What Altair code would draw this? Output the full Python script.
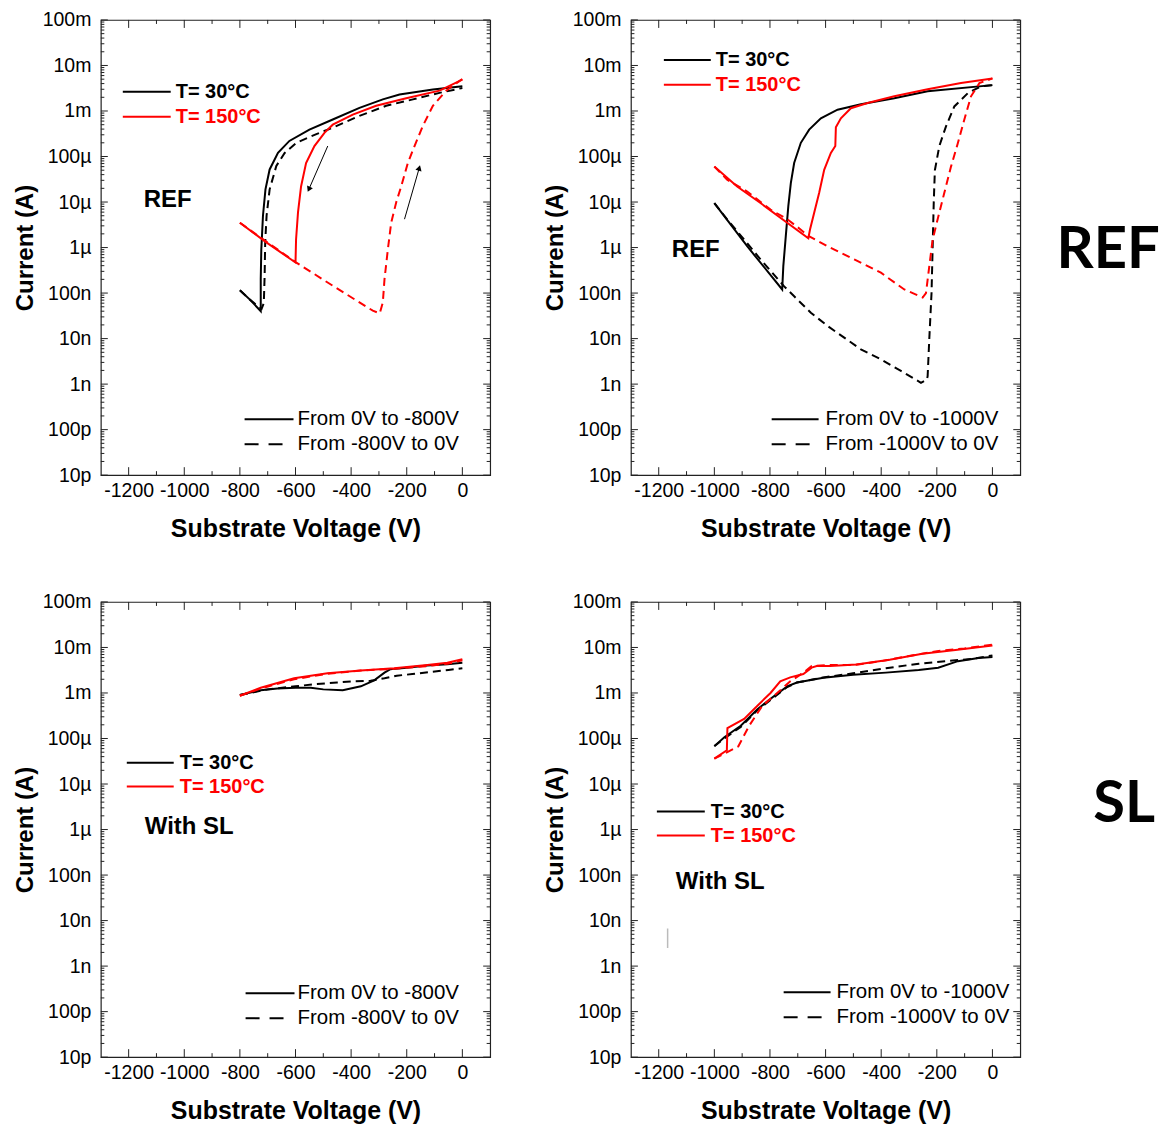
import altair as alt
import pandas as pd

# ---------------- data ----------------
# Panel 1 : REF, sweep 0 V -> -800 V (solid) and back (dashed)
p1_30_fwd_v = [0, -106, -226, -286, -370, -466, -550, -622, -663, -693, -708, -717, -723, -725, -725, -762, -800]
p1_30_fwd_i = [3.5e-3, 2.95e-3, 2.3e-3, 1.8e-3, 1.17e-3, 6.5e-4, 3.9e-4, 2.2e-4, 1.2e-4, 5.2e-5, 1.9e-5, 5e-6, 9e-7, 2e-7, 4e-8, 7e-8, 1.15e-7]
p1_30_rev_v = [-800, -762, -722, -714, -711, -709, -704, -693, -669, -639, -597, -525, -466, -370, -274, -178, -82, 0]
p1_30_rev_i = [1.15e-7, 7e-8, 4.5e-8, 6e-8, 2.4e-7, 1.3e-6, 5e-6, 1.9e-5, 6.2e-5, 1.2e-4, 2e-4, 3.1e-4, 4.3e-4, 7.8e-4, 1.3e-3, 1.8e-3, 2.5e-3, 3.2e-3]
p1_150_fwd_v = [0, -82, -202, -310, -394, -466, -496, -532, -562, -580, -591, -598, -600, -705, -800]
p1_150_fwd_i = [4.9e-3, 2.8e-3, 1.9e-3, 1.3e-3, 8.3e-4, 5e-4, 3.3e-4, 1.7e-4, 7.2e-5, 2.2e-5, 5.9e-6, 1.5e-6, 4.7e-7, 1.3e-6, 3.5e-6]
p1_150_rev_v = [-800, -705, -600, -466, -322, -297, -286, -280, -268, -256, -238, -220, -196, -172, -142, -106, -58, -10, 0]
p1_150_rev_i = [3.5e-6, 1.35e-6, 4.8e-7, 1.45e-7, 4.1e-8, 3.6e-8, 6.2e-8, 2e-7, 9e-7, 3.5e-6, 9.8e-6, 2.2e-5, 7.2e-5, 1.7e-4, 4.7e-4, 1.3e-3, 2.8e-3, 4.6e-3, 5e-3]
p1_arrow_v0 = [-484, -208]
p1_arrow_i0 = [1.7e-4, 4.2e-6]
p1_arrow_v1 = [-552, -155]
p1_arrow_i1 = [1.9e-5, 5.6e-5]
p1_arrow_ang = [204, 16]

# Panel 2 : REF, sweep 0 V -> -1000 V
p2_30_fwd_v = [0, -233, -353, -473, -557, -617, -659, -689, -713, -725, -734, -743, -752, -756, -882, -1000]
p2_30_fwd_i = [3.7e-3, 2.7e-3, 1.9e-3, 1.4e-3, 1.07e-3, 6.9e-4, 3.9e-4, 2e-4, 7.2e-5, 2.6e-5, 8.1e-6, 1.8e-6, 3.9e-7, 1.2e-7, 1.07e-6, 9.5e-6]
p2_30_rev_v = [-1000, -953, -893, -833, -785, -749, -713, -653, -593, -533, -473, -401, -329, -257, -236, -233, -227, -219, -215, -211, -207, -191, -167, -137, -89, -41, 0]
p2_30_rev_i = [9.5e-6, 4.1e-6, 1.5e-6, 5.4e-7, 2.5e-7, 1.4e-7, 8.5e-8, 3.7e-8, 1.9e-8, 1.05e-8, 5.8e-9, 3.5e-9, 1.95e-9, 1.07e-9, 1.25e-9, 1.5e-9, 1e-8, 1e-7, 1e-6, 1e-5, 5e-5, 1.7e-4, 4.6e-4, 1.26e-3, 2.45e-3, 3.5e-3, 3.7e-3]
p2_150_fwd_v = [0, -113, -233, -353, -449, -509, -545, -563, -565, -581, -605, -623, -641, -656, -662, -834, -918, -1000]
p2_150_fwd_i = [5.2e-3, 4.1e-3, 3e-3, 2.1e-3, 1.5e-3, 1.15e-3, 6.9e-4, 4.4e-4, 1.7e-4, 1.2e-4, 5.1e-5, 1.6e-5, 5.8e-6, 2.5e-6, 1.6e-6, 9.5e-6, 2.2e-5, 6e-5]
p2_150_rev_v = [-1000, -954, -882, -798, -738, -690, -662, -593, -497, -401, -317, -251, -239, -227, -215, -197, -173, -149, -125, -101, -77, -47, 0]
p2_150_rev_i = [6e-5, 3.1e-5, 1.7e-5, 6.8e-6, 4.2e-6, 2.5e-6, 1.8e-6, 1.07e-6, 5.5e-7, 2.8e-7, 1.2e-7, 8e-8, 1e-7, 3.9e-7, 1.5e-6, 4.2e-6, 1.6e-5, 6e-5, 1.9e-4, 6.5e-4, 2.1e-3, 4.1e-3, 5.2e-3]

# Panel 3 : with SL, sweep 0 V -> -800 V
p3_30_fwd_v = [0, -54, -126, -200, -260, -280, -317, -365, -430, -500, -545, -600, -665, -725, -800]
p3_30_fwd_i = [4.6e-3, 4.3e-3, 4.0e-3, 3.6e-3, 3.3e-3, 2.8e-3, 1.9e-3, 1.4e-3, 1.15e-3, 1.2e-3, 1.3e-3, 1.3e-3, 1.25e-3, 1.15e-3, 9e-4]
p3_30_rev_v = [-800, -700, -600, -536, -450, -390, -330, -280, -236, -180, -116, -50, 0]
p3_30_rev_i = [9e-4, 1.2e-3, 1.4e-3, 1.55e-3, 1.7e-3, 1.8e-3, 1.85e-3, 2.1e-3, 2.4e-3, 2.6e-3, 2.9e-3, 3.2e-3, 3.5e-3]
p3_150_fwd_v = [0, -54, -126, -245, -365, -485, -605, -725, -800]
p3_150_fwd_i = [5.5e-3, 4.6e-3, 4.1e-3, 3.5e-3, 3.1e-3, 2.7e-3, 2.1e-3, 1.3e-3, 8.7e-4]
p3_150_rev_v = [-800, -725, -605, -485, -365, -245, -126, -54, 0]
p3_150_rev_i = [8.7e-4, 1.25e-3, 2.0e-3, 2.65e-3, 3.1e-3, 3.4e-3, 3.9e-3, 4.4e-3, 5.2e-3]

# Panel 4 : with SL, sweep 0 V -> -1000 V
p4_30_fwd_v = [0, -50, -124, -195, -265, -383, -501, -608, -703, -738, -786, -845, -905, -964, -1000]
p4_30_fwd_i = [6.2e-3, 5.9e-3, 5e-3, 3.6e-3, 3.2e-3, 2.8e-3, 2.5e-3, 2.15e-3, 1.7e-3, 1.4e-3, 8.5e-4, 4.4e-4, 1.9e-4, 1.07e-4, 6.8e-5]
p4_30_rev_v = [-1000, -964, -905, -845, -786, -738, -703, -608, -501, -383, -265, -171, -74, 0]
p4_30_rev_i = [6.8e-5, 1.0e-4, 1.8e-4, 4.2e-4, 8e-4, 1.35e-3, 1.7e-3, 2.2e-3, 2.7e-3, 3.5e-3, 4.4e-3, 5e-3, 5.6e-3, 6.7e-3]
p4_150_fwd_v = [0, -133, -252, -370, -489, -584, -632, -650, -680, -727, -763, -798, -846, -893, -953, -955, -1000]
p4_150_fwd_i = [1.1e-2, 8.8e-3, 7.3e-3, 5.4e-3, 4.2e-3, 3.9e-3, 3.9e-3, 3.6e-3, 2.6e-3, 2.2e-3, 1.8e-3, 1e-3, 5.2e-4, 2.7e-4, 1.7e-4, 5.5e-5, 3.6e-5]
p4_150_rev_v = [-1000, -914, -875, -828, -774, -727, -680, -650, -600, -500, -400, -300, -200, -100, 0]
p4_150_rev_i = [3.6e-5, 6.7e-5, 1.9e-4, 5.2e-4, 1e-3, 1.8e-3, 2.8e-3, 3.9e-3, 4.1e-3, 4.1e-3, 5e-3, 6.5e-3, 8.3e-3, 9.5e-3, 1.15e-2]
p4_mark_v = [-1168, -1168]
p4_mark_i = [2.5e-9, 6.7e-9]

# axes
x_tick_values = [-1200, -1000, -800, -600, -400, -200, 0]
x_minor_values = [-1100, -900, -700, -500, -300, -100]
y_tick_values = [1e-11, 1e-10, 1e-9, 1e-8, 1e-7, 1e-6, 1e-5, 1e-4, 1e-3, 1e-2, 1e-1]
y_tick_labels = ["10p", "100p", "1n", "10n", "100n", "1µ", "10µ", "100µ", "1m", "10m", "100m"]
y_minor_values = [k * 10.0 ** d for d in range(-11, -1) for k in range(2, 10)]

# ---------------- styling ----------------
W, H = 390, 456
FONT = "Liberation Sans"
RED = "#ff0000"
BLACK = "#000000"
DASH = [8, 5]

x_scale = alt.Scale(domain=[-1300, 100], nice=False, zero=False)
y_scale = alt.Scale(type="log", domain=[1e-11, 1e-1], nice=False)

y_label_expr = "[" + ",".join("'%s'" % s for s in y_tick_labels) + "][round(log(datum.value)/LN10)+11]"

x_axis = alt.Axis(values=x_tick_values, labelExpr="datum.value + ''", ticks=False, tickSize=0,
                  domain=False, grid=False, labelFont=FONT, labelFontSize=19.5, labelColor="black",
                  labelPadding=6, labelFlush=False, labelOverlap=False,
                  title="Substrate Voltage (V)", titleFont=FONT, titleFontSize=25,
                  titleFontWeight="bold", titleColor="black", titlePadding=17)
y_axis = alt.Axis(values=y_tick_values, labelExpr=y_label_expr, ticks=False, tickSize=0,
                  domain=False, grid=False, labelFont=FONT, labelFontSize=19.5, labelColor="black",
                  labelPadding=10, labelFlush=False, labelOverlap=False,
                  title="Current (A)", titleFont=FONT, titleFontSize=24,
                  titleFontWeight="bold", titleColor="black", titlePadding=5)


def X(field):
    return alt.X(field, type="quantitative", scale=x_scale, axis=x_axis)


def Y(field):
    return alt.Y(field, type="quantitative", scale=y_scale, axis=y_axis)


def tick_layers():
    dx = pd.DataFrame({"v": x_tick_values})
    dxm = pd.DataFrame({"v": x_minor_values})
    dy = pd.DataFrame({"v": y_tick_values})
    dym = pd.DataFrame({"v": y_minor_values})
    rule = dict(color="#222222", strokeWidth=1)
    return [
        alt.Chart(dx).mark_rule(**rule).encode(x=X("v"), y=alt.value(H), y2=alt.value(H - 8)),
        alt.Chart(dx).mark_rule(**rule).encode(x=X("v"), y=alt.value(0), y2=alt.value(8)),
        alt.Chart(dxm).mark_rule(**rule).encode(x=X("v"), y=alt.value(H), y2=alt.value(H - 4)),
        alt.Chart(dxm).mark_rule(**rule).encode(x=X("v"), y=alt.value(0), y2=alt.value(4)),
        alt.Chart(dy).mark_rule(**rule).encode(y=Y("v"), x=alt.value(0), x2=alt.value(7)),
        alt.Chart(dy).mark_rule(**rule).encode(y=Y("v"), x=alt.value(W), x2=alt.value(W - 7)),
        alt.Chart(dym).mark_rule(**rule).encode(y=Y("v"), x=alt.value(0), x2=alt.value(3.5)),
        alt.Chart(dym).mark_rule(**rule).encode(y=Y("v"), x=alt.value(W), x2=alt.value(W - 3.5)),
    ]


def curve(v, i, color, dashed):
    df = pd.DataFrame({"V": v, "I": i, "k": list(range(len(v)))})
    kw = dict(color=color, strokeWidth=2)
    if dashed:
        kw["strokeDash"] = DASH
    return alt.Chart(df).mark_line(**kw).encode(x=X("V"), y=Y("I"), order=alt.Order("k:Q"))


def text(t, x, y, color=BLACK, size=19, weight="normal", align="left", font=FONT):
    return alt.Chart(pd.DataFrame({"t": [t]})).mark_text(
        align=align, baseline="middle", fontSize=size, fontWeight=weight, color=color, font=font
    ).encode(text="t:N", x=alt.value(x), y=alt.value(y))


def sample(x1, x2, y, color, dash=None):
    kw = dict(color=color, strokeWidth=2)
    if dash:
        kw["strokeDash"] = dash
    return alt.Chart(pd.DataFrame({"a": [0]})).mark_rule(**kw).encode(
        x=alt.value(x1), x2=alt.value(x2), y=alt.value(y))


def panel(series, temp_leg, tag, sweep, extra=None, big=None):
    layers = tick_layers()
    for v, i, color, dashed in series:
        layers.append(curve(v, i, color, dashed))
    # temperature legend
    lx1, lx2, tx, y1, y2 = temp_leg
    layers += [sample(lx1, lx2, y1, BLACK), text("T= 30°C", tx, y1, weight="bold", size=20),
               sample(lx1, lx2, y2, RED), text("T= 150°C", tx, y2, color=RED, weight="bold", size=20)]
    # sample tag
    layers.append(text(tag[0], tag[1], tag[2], weight="bold", size=24))
    # sweep legend
    sx1, sx2, stx, sy1, sy2, s1, s2 = sweep
    layers += [sample(sx1, sx2, sy1, BLACK), text(s1, stx, sy1, size=20.5),
               sample(sx1, sx2 - 2, sy2, BLACK, [14, 10]), text(s2, stx, sy2, size=20.5)]
    if extra:
        layers += extra
    if big:
        layers.append(text(big[0], big[1], big[2], size=58, weight="bold", align="center", font="Lato"))
    return alt.layer(*layers).properties(width=W, height=H)


# arrows of panel 1
arrows = pd.DataFrame({"v0": p1_arrow_v0, "i0": p1_arrow_i0, "v1": p1_arrow_v1,
                       "i1": p1_arrow_i1, "ang": p1_arrow_ang})
arrow_layers = [
    alt.Chart(arrows).mark_rule(color=BLACK, strokeWidth=1).encode(
        x=X("v0"), y=Y("i0"), x2="v1", y2="i1"),
    alt.Chart(arrows).mark_point(shape="triangle-up", filled=True, size=40, color=BLACK, opacity=1).encode(
        x=X("v1"), y=Y("i1"), angle=alt.Angle("ang:Q", scale=None)),
]

mark_df = pd.DataFrame({"V": p4_mark_v, "I": p4_mark_i, "k": [0, 1]})
mark_layer = [alt.Chart(mark_df).mark_line(color="#bbbbbb", strokeWidth=1.5).encode(
    x=X("V"), y=Y("I"), order=alt.Order("k:Q"))]

c1 = panel(
    [(p1_30_fwd_v, p1_30_fwd_i, BLACK, False), (p1_30_rev_v, p1_30_rev_i, BLACK, True),
     (p1_150_fwd_v, p1_150_fwd_i, RED, False), (p1_150_rev_v, p1_150_rev_i, RED, True)],
    (22, 70, 75, 72, 97), ("REF", 43, 180),
    (144, 193, 197, 400, 425, "From 0V to -800V", "From -800V to 0V"),
    extra=arrow_layers)

c2 = panel(
    [(p2_30_fwd_v, p2_30_fwd_i, BLACK, False), (p2_30_rev_v, p2_30_rev_i, BLACK, True),
     (p2_150_fwd_v, p2_150_fwd_i, RED, False), (p2_150_rev_v, p2_150_rev_i, RED, True)],
    (33, 80, 85, 40, 65), ("REF", 41, 230),
    (141, 188, 195, 400, 425, "From 0V to -1000V", "From -1000V to 0V"),
    big=("REF", 478, 231))

c3 = panel(
    [(p3_30_fwd_v, p3_30_fwd_i, BLACK, False), (p3_30_rev_v, p3_30_rev_i, BLACK, True),
     (p3_150_fwd_v, p3_150_fwd_i, RED, False), (p3_150_rev_v, p3_150_rev_i, RED, True)],
    (26, 73, 79, 161, 185), ("With SL", 44, 225),
    (145, 194, 197, 392, 417, "From 0V to -800V", "From -800V to 0V"))

c4 = panel(
    [(p4_30_fwd_v, p4_30_fwd_i, BLACK, False), (p4_30_rev_v, p4_30_rev_i, BLACK, True),
     (p4_150_fwd_v, p4_150_fwd_i, RED, False), (p4_150_rev_v, p4_150_rev_i, RED, True)],
    (26, 74, 80, 210, 234), ("With SL", 45, 281),
    (153, 200, 206, 391, 416, "From 0V to -1000V", "From -1000V to 0V"),
    extra=mark_layer, big=("SL", 494, 203))

chart = alt.vconcat(
    alt.hconcat(c1, c2, spacing=50),
    alt.hconcat(c3, c4, spacing=50),
    spacing=48,
).properties(
    padding={"left": 4, "top": 0, "right": 0, "bottom": 0}
).configure_view(stroke="#222222", strokeWidth=1.2)

chart.save("out.html", embed_options={"renderer": "svg", "actions": False})
